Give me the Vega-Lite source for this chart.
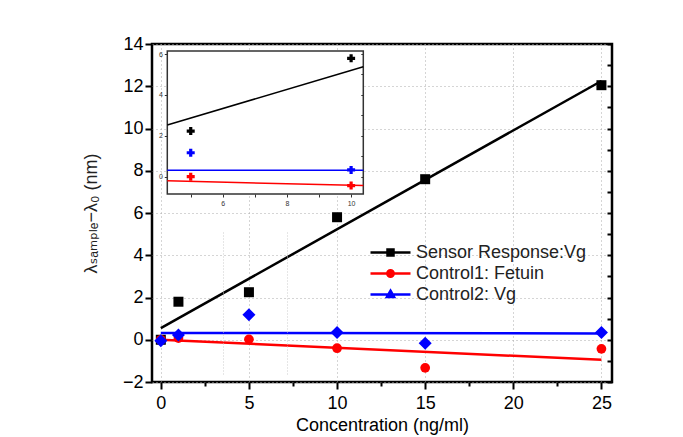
{
  "$schema": "https://vega.github.io/schema/vega-lite/v6.json",
  "width": 460,
  "height": 338,
  "autosize": {"type": "none"},
  "padding": {"left": 152, "top": 44, "right": 71, "bottom": 55},
  "background": "white",
  "view": {"stroke": "#000", "strokeWidth": 2.5, "fill": "white"},
  "config": {"font": "Liberation Sans"},
  "datasets": {
    "points": [
      {"series": "Sensor Response:Vg", "conc": 0, "value": 0},
      {"series": "Sensor Response:Vg", "conc": 1, "value": 1.8},
      {"series": "Sensor Response:Vg", "conc": 5, "value": 2.25},
      {"series": "Sensor Response:Vg", "conc": 10, "value": 5.8},
      {"series": "Sensor Response:Vg", "conc": 15, "value": 7.6},
      {"series": "Sensor Response:Vg", "conc": 25, "value": 12.05},
      {"series": "Control1: Fetuin", "conc": 0, "value": 0},
      {"series": "Control1: Fetuin", "conc": 1, "value": 0.08},
      {"series": "Control1: Fetuin", "conc": 5, "value": 0.02},
      {"series": "Control1: Fetuin", "conc": 10, "value": -0.4},
      {"series": "Control1: Fetuin", "conc": 15, "value": -1.33},
      {"series": "Control1: Fetuin", "conc": 25, "value": -0.43},
      {"series": "Control2: Vg", "conc": 0, "value": -0.05},
      {"series": "Control2: Vg", "conc": 1, "value": 0.22},
      {"series": "Control2: Vg", "conc": 5, "value": 1.18},
      {"series": "Control2: Vg", "conc": 10, "value": 0.34},
      {"series": "Control2: Vg", "conc": 15, "value": -0.17},
      {"series": "Control2: Vg", "conc": 25, "value": 0.34}
    ],
    "fits": [
      {"series": "Sensor Response:Vg", "conc": 0, "value": 0.55},
      {"series": "Sensor Response:Vg", "conc": 25, "value": 12.25},
      {"series": "Control1: Fetuin", "conc": 0, "value": 0.0},
      {"series": "Control1: Fetuin", "conc": 25, "value": -0.95},
      {"series": "Control2: Vg", "conc": 0, "value": 0.32},
      {"series": "Control2: Vg", "conc": 25, "value": 0.3}
    ],
    "insetPoints": [
      {"series": "Sensor Response:Vg", "conc": 5, "value": 2.23},
      {"series": "Sensor Response:Vg", "conc": 10, "value": 5.79},
      {"series": "Control1: Fetuin", "conc": 5, "value": 0.0},
      {"series": "Control1: Fetuin", "conc": 10, "value": -0.44},
      {"series": "Control2: Vg", "conc": 5, "value": 1.17},
      {"series": "Control2: Vg", "conc": 10, "value": 0.33}
    ],
    "insetFits": [
      {"series": "Sensor Response:Vg", "conc": 4.27, "value": 2.53},
      {"series": "Sensor Response:Vg", "conc": 10.38, "value": 5.38},
      {"series": "Control1: Fetuin", "conc": 4.27, "value": -0.2},
      {"series": "Control1: Fetuin", "conc": 10.38, "value": -0.44},
      {"series": "Control2: Vg", "conc": 4.27, "value": 0.31},
      {"series": "Control2: Vg", "conc": 10.38, "value": 0.31}
    ],
    "frame": [{"x0": 4.27, "x1": 10.38, "y0": -0.85, "y1": 6.15}]
  },
  "resolve": {"scale": {"x": "independent", "y": "independent"}},
  "layer": [
    {
      "data": {"name": "fits"},
      "mark": {"type": "line", "strokeWidth": 2.5},
      "encoding": {
        "x": {
          "field": "conc", "type": "quantitative",
          "scale": {"domain": [-0.5, 25.6], "nice": false, "zero": false},
          "axis": {
            "orient": "bottom",
            "values": [0, 2.5, 5, 7.5, 10, 12.5, 15, 17.5, 20, 22.5, 25],
            "format": "d",
            "labelExpr": "datum.value % 5 === 0 ? datum.label : ''",
            "domain": false,
            "tickColor": "#000", "tickWidth": 2,
            "tickSize": {"condition": {"test": "datum.value % 5 === 0", "value": 7}, "value": 4},
            "grid": true, "gridDash": [1, 3], "gridColor": "#aaa", "gridWidth": 1,
            "gridOpacity": {"condition": {"test": "datum.value % 5 === 0", "value": 1}, "value": 0},
            "labelFontSize": 18, "labelColor": "#000", "labelPadding": 5, "labelFont": "Liberation Sans",
            "title": "Concentration (ng/ml)", "titleFontSize": 18, "titleFontWeight": "normal",
            "titleColor": "#000", "titlePadding": 4, "titleFont": "Liberation Sans"
          }
        },
        "y": {
          "field": "value", "type": "quantitative",
          "scale": {"domain": [-2, 14], "nice": false, "zero": false},
          "axis": {
            "orient": "left",
            "values": [-2, 0, 2, 4, 6, 8, 10, 12, 14],
            "domain": false,
            "tickColor": "#000", "tickWidth": 2, "tickSize": 7,
            "grid": true, "gridDash": [1, 3], "gridColor": "#aaa", "gridWidth": 1,
            "labelFontSize": 18, "labelColor": "#000", "labelPadding": 2, "labelFont": "Liberation Sans",
            "title": "λₛₐₘₚₗₑ−λ₀ (nm)", "titleFontSize": 18, "titleFontWeight": "normal",
            "titleColor": "#222", "titlePadding": 22, "titleFont": "Liberation Sans, DejaVu Sans"
          }
        },
        "color": {
          "field": "series", "type": "nominal",
          "scale": {"domain": ["Sensor Response:Vg", "Control1: Fetuin", "Control2: Vg"], "range": ["#000000", "#ff0000", "#0000ff"]},
          "legend": {
            "title": null, "orient": "none", "legendX": 227, "legendY": 197,
            "padding": 0, "symbolSize": 400, "symbolStrokeWidth": 2.5,
            "labelFontSize": 18, "labelFont": "Liberation Sans", "labelColor": "#222",
            "labelOffset": 14, "rowPadding": 0, "labelLimit": 400,
            "encode": {
              "symbols": {
                "update": {
                  "shape": {"signal": "datum.value === 'Sensor Response:Vg' ? 'M-2,0H2M-0.3,-0.3H0.3V0.3H-0.3Z' : datum.value === 'Control1: Fetuin' ? 'M-2,0H2M0.32,0A0.32,0.32 0 1,1 -0.32,0A0.32,0.32 0 1,1 0.32,0Z' : 'M-2,0H2M0,-0.38L0.36,0.26H-0.36Z'"},
                  "fill": {"scale": "color", "field": "value"},
                  "stroke": {"scale": "color", "field": "value"},
                  "opacity": {"value": 1}
                }
              }
            }
          }
        }
      }
    },
    {
      "data": {"name": "points"},
      "transform": [{"filter": "datum.series === 'Sensor Response:Vg'"}],
      "mark": {"type": "point", "shape": "square", "filled": true, "opacity": 1, "size": 100},
      "encoding": {
        "x": {
          "field": "conc", "type": "quantitative",
          "scale": {"domain": [-0.5, 25.6], "nice": false, "zero": false},
          "axis": null
        },
        "y": {
          "field": "value", "type": "quantitative",
          "scale": {"domain": [-2, 14], "nice": false, "zero": false},
          "axis": {
            "orient": "right",
            "values": [-2, -1, 0, 1, 2, 3, 4, 5, 6, 7, 8, 9, 10, 11, 12, 13, 14],
            "labels": false, "domain": false, "grid": false, "title": null,
            "tickSize": -5, "tickColor": "#000", "tickWidth": 2
          }
        },
        "color": {"field": "series", "type": "nominal"}
      }
    },
    {
      "data": {"name": "points"},
      "transform": [{"filter": "datum.series === 'Control1: Fetuin'"}],
      "mark": {"type": "point", "shape": "circle", "filled": true, "opacity": 1, "size": 95},
      "encoding": {
        "x": {
          "field": "conc", "type": "quantitative",
          "scale": {"domain": [-0.5, 25.6], "nice": false, "zero": false},
          "axis": null
        },
        "y": {
          "field": "value", "type": "quantitative",
          "scale": {"domain": [-2, 14], "nice": false, "zero": false},
          "axis": null
        },
        "color": {"field": "series", "type": "nominal"}
      }
    },
    {
      "data": {"name": "points"},
      "transform": [{"filter": "datum.series === 'Control2: Vg'"}],
      "mark": {"type": "point", "shape": "diamond", "filled": true, "opacity": 1, "size": 170},
      "encoding": {
        "x": {
          "field": "conc", "type": "quantitative",
          "scale": {"domain": [-0.5, 25.6], "nice": false, "zero": false},
          "axis": null
        },
        "y": {
          "field": "value", "type": "quantitative",
          "scale": {"domain": [-2, 14], "nice": false, "zero": false},
          "axis": null
        },
        "color": {"field": "series", "type": "nominal"}
      }
    },
    {
      "data": {"name": "frame"},
      "mark": {"type": "rect", "fill": "white", "stroke": "#333", "strokeWidth": 1.5},
      "encoding": {
        "x": {
          "field": "x0", "type": "quantitative",
          "scale": {"domain": [4.27, 10.38], "range": [15.3, 211.3], "nice": false, "zero": false},
          "axis": null
        },
        "x2": {"field": "x1"},
        "y": {
          "field": "y0", "type": "quantitative",
          "scale": {"domain": [-0.85, 6.15], "range": [150, 7], "nice": false, "zero": false},
          "axis": null
        },
        "y2": {"field": "y1"}
      }
    },
    {
      "data": {"name": "insetFits"},
      "mark": {"type": "line", "strokeWidth": 1.5},
      "encoding": {
        "x": {
          "field": "conc", "type": "quantitative",
          "scale": {"domain": [4.27, 10.38], "range": [15.3, 211.3], "nice": false, "zero": false},
          "axis": {
            "orient": "bottom", "offset": -188, "zindex": 1,
            "values": [5, 6, 7, 8, 9, 10], "format": "d",
            "labelExpr": "datum.value % 2 === 0 ? datum.label : ''",
            "domain": false, "tickSize": 3, "tickColor": "#333", "tickWidth": 1,
            "grid": true, "gridDash": [1, 2], "gridColor": "#ccc",
            "gridOpacity": {"condition": {"test": "datum.value === 6 || datum.value === 8", "value": 1}, "value": 0},
            "labelFontSize": 7, "labelColor": "#333", "labelPadding": 2, "title": null
          }
        },
        "y": {
          "field": "value", "type": "quantitative",
          "scale": {"domain": [-0.85, 6.15], "range": [150, 7], "nice": false, "zero": false},
          "axis": {
            "orient": "left", "offset": -15.3, "zindex": 1,
            "values": [0, 2, 4, 6], "format": "d",
            "domain": false, "tickSize": 3, "tickColor": "#333", "tickWidth": 1,
            "grid": false, "labelFontSize": 7, "labelColor": "#333", "labelPadding": 2, "title": null
          }
        },
        "color": {"field": "series", "type": "nominal"}
      }
    },
    {
      "data": {"name": "insetPoints"},
      "mark": {"type": "point", "shape": "cross", "filled": true, "opacity": 1, "size": 64},
      "encoding": {
        "x": {
          "field": "conc", "type": "quantitative",
          "scale": {"domain": [4.27, 10.38], "range": [15.3, 211.3], "nice": false, "zero": false},
          "axis": null
        },
        "y": {
          "field": "value", "type": "quantitative",
          "scale": {"domain": [-0.85, 6.15], "range": [150, 7], "nice": false, "zero": false},
          "axis": {
            "orient": "right", "offset": -248.7, "zindex": 1,
            "values": [0, 1, 2, 3, 4, 5, 6],
            "labels": false, "domain": false, "grid": false, "title": null,
            "tickSize": -2.5, "tickColor": "#333", "tickWidth": 1
          }
        },
        "color": {"field": "series", "type": "nominal"}
      }
    }
  ]
}
